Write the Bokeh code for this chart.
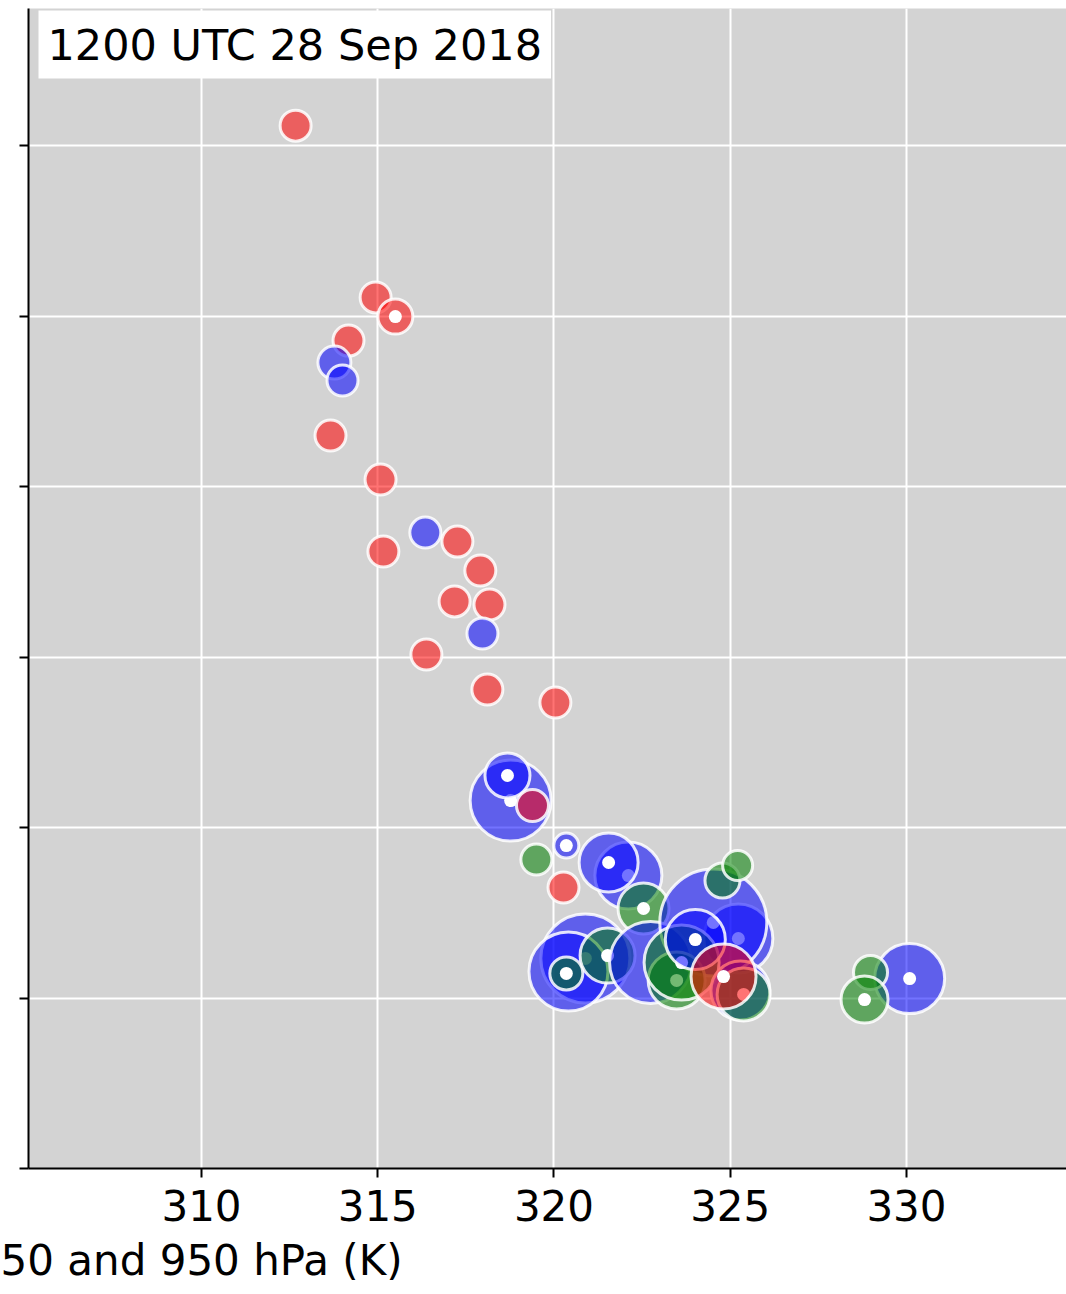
from bokeh.plotting import figure
from bokeh.models import Range1d, FixedTicker, Label, ColumnDataSource, Title
from bokeh.embed import file_html
from bokeh.resources import INLINE

# ---- data ----
x_ticks = [310, 315, 320, 325, 330]
y_ticks = [0, 1, 2, 3, 4, 5, 6]

theta_e = [312.67, 314.94, 315.50, 314.17, 313.77, 314.00, 313.66, 315.08, 316.35, 315.16,
           317.26, 317.91, 317.18, 318.17, 317.97, 316.38, 318.11, 320.04,
           318.77, 318.68, 319.39, 319.50, 320.35, 322.11, 321.55, 320.89, 320.27,
           322.54, 320.41, 320.35, 321.52, 322.74, 325.23, 324.52, 324.78, 325.21,
           323.48, 323.62, 325.29, 325.38, 324.01, 324.81, 330.09, 328.98, 328.81]
y_metric = [6.117, 5.109, 4.997, 4.856, 4.727, 4.622, 4.299, 4.041, 3.730, 3.619,
            3.677, 3.507, 3.326, 3.308, 3.138, 3.015, 2.809, 2.733,
            2.158, 2.305, 2.129, 1.812, 1.894, 1.718, 1.795, 1.232, 1.648,
            1.525, 1.155, 1.144, 1.249, 1.208, 1.349, 1.443, 1.689, 1.777,
            1.103, 1.208, 1.044, 1.021, 1.343, 1.126, 1.114, 1.150, 0.991]
group = ["R", "R", "R", "R", "B", "B", "R", "R", "B", "R",
         "R", "R", "R", "R", "B", "R", "R", "R",
         "B", "B", "R", "G", "B", "B", "B", "B", "R",
         "G", "B", "G", "G", "B", "B", "B", "G", "G",
         "G", "G", "B", "G", "B", "R", "B", "G", "G"]
bubble = [34, 34, 38, 34, 36, 34, 34, 34, 34, 34,
          34, 34, 34, 34, 34, 34, 34, 34,
          84, 48, 35, 34, 28, 70, 62, 92, 34,
          54, 82, 36, 58, 85, 72, 110, 38, 33,
          60, 78, 62, 56, 63, 68, 73, 37, 50]
flagged = [0, 0, 1, 0, 0, 0, 0, 0, 0, 0,
           0, 0, 0, 0, 0, 0, 0, 0,
           1, 1, 0, 0, 1, 1, 1, 1, 0,
           1, 0, 1, 1, 0, 1, 1, 0, 0,
           1, 1, 0, 1, 1, 1, 1, 0, 1]

title_text = "1200 UTC 28 Sep 2018"
x_label_text = "50 and 950 hPa (K)"

palette = {"R": "red", "B": "blue", "G": "green"}
FONT = "DejaVu Sans"
FS = "42px"

# build interleaved draw list: circle then (optional) centre dot
rows = dict(x=[], y=[], size=[], fill=[], falpha=[], lcolor=[], lalpha=[], lw=[])
for xv, yv, g, s, f in zip(theta_e, y_metric, group, bubble, flagged):
    rows["x"].append(xv); rows["y"].append(yv); rows["size"].append(s - 3)
    rows["fill"].append(palette[g]); rows["falpha"].append(0.55)
    rows["lcolor"].append("white"); rows["lalpha"].append(0.85); rows["lw"].append(3)
    if f:
        rows["x"].append(xv); rows["y"].append(yv); rows["size"].append(13)
        rows["fill"].append("white"); rows["falpha"].append(1.0)
        rows["lcolor"].append("white"); rows["lalpha"].append(0.0); rows["lw"].append(0)
src = ColumnDataSource(rows)

p = figure(width=1066, height=1294, output_backend="svg", toolbar_location=None,
           x_range=Range1d(305.092, 334.54), y_range=Range1d(0, 6.804),
           min_border_left=28, min_border_right=0, min_border_top=8, min_border_bottom=126)
p.background_fill_color = "#d3d3d3"
p.border_fill_color = "white"
p.outline_line_color = None

p.xaxis.ticker = FixedTicker(ticks=x_ticks)
p.yaxis.ticker = FixedTicker(ticks=y_ticks)
p.yaxis.major_label_overrides = {t: "" for t in y_ticks}
p.yaxis.major_label_standoff = 0
for ax in (p.xaxis, p.yaxis):
    ax.axis_line_color = "black"
    ax.axis_line_width = 2
    ax.major_tick_line_color = "black"
    ax.major_tick_line_width = 2
    ax.major_tick_out = 9
    ax.major_tick_in = 0
    ax.minor_tick_out = 0
    ax.minor_tick_in = 0
    ax.major_label_text_font = FONT
    ax.major_label_text_font_size = FS
    ax.major_label_text_color = "black"
p.xaxis.major_label_standoff = 12

p.grid.grid_line_color = "white"
p.grid.grid_line_width = 2
p.grid.grid_line_alpha = 1.0

p.scatter("x", "y", source=src, size="size", fill_color="fill", fill_alpha="falpha",
          line_color="lcolor", line_alpha="lalpha", line_width="lw", marker="circle")

p.add_layout(Label(x=10, y=1124, x_units="screen", y_units="screen", text=title_text,
                   text_font=FONT, text_font_size="43px", text_color="black",
                   text_align="left", text_baseline="middle",
                   background_fill_color="white", background_fill_alpha=1.0,
                   border_line_color=None, padding=9))

p.add_layout(Title(text=x_label_text, align="left", offset=-28, standoff=20,
                   text_font=FONT, text_font_size=FS, text_color="black",
                   text_font_style="normal"), "below")

open("out.html", "w").write(file_html(p, INLINE))
